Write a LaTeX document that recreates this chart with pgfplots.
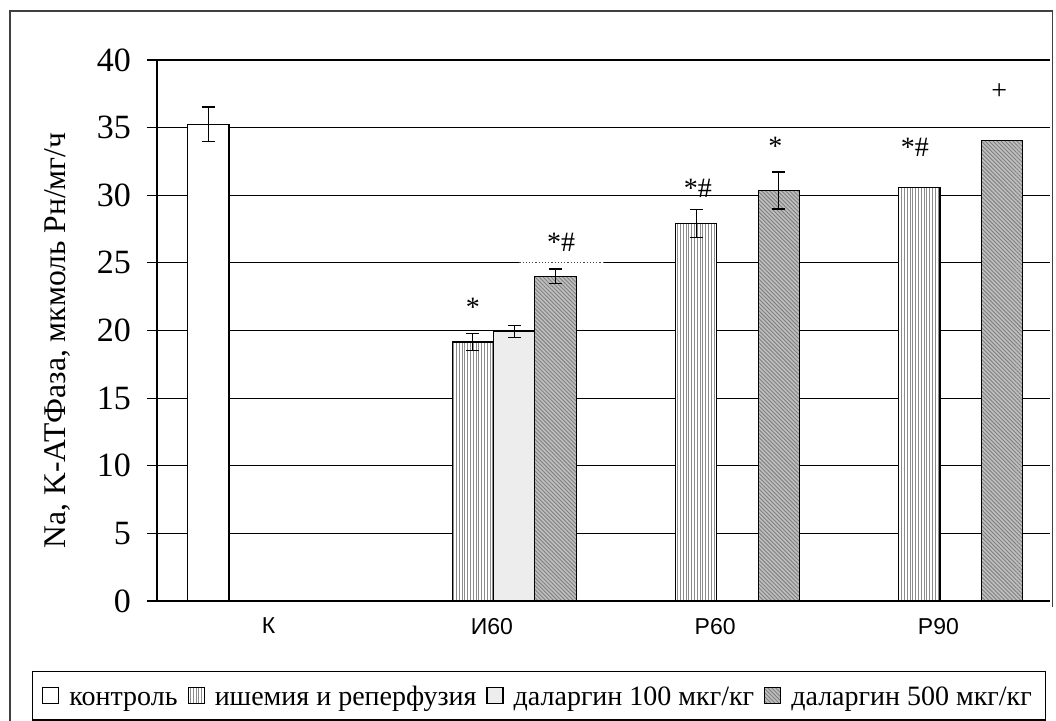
\documentclass[border=0pt]{standalone}
\usepackage{pgfplots}
\pgfplotsset{compat=1.18}
\usetikzlibrary{patterns.meta}
\usepackage{fontspec}
\setmainfont{Liberation Serif}
\newfontfamily\arialfont{Liberation Sans}

% small square legend symbol filled like the bar
\pgfplotsset{sqlegend/.style={legend image code/.code={\draw[##1, line width=0.6pt] (0pt,-4pt) rectangle (8pt,4pt);}}}

\begin{document}
\begin{tikzpicture}
\path[use as bounding box] (0pt,0pt) rectangle (528pt,-360pt);
\begin{axis}[
  name=ax, at={(78.5pt,-300.5pt)}, anchor=south west,
  scale only axis, width=446.5pt, height=270.5pt,
  xmin=-0.5, xmax=3.5, ymin=0, ymax=40,
  ybar, bar width=0.185,
  axis lines*=left,
  axis line style={line width=0.6pt, black},
  tick align=outside,
  major tick length=5pt, minor tick length=3.2pt,
  xtick={0,1,2,3}, xticklabels={К,И60,Р60,Р90},
  xtick style={draw=none},
  minor xtick={-0.5,0.5,1.5,2.5,3.5},
  minor tick style={line width=0.6pt, black},
  ytick={0,5,...,40},
  ytick style={line width=0.6pt, black},
  ymajorgrids, major grid style={line width=0.6pt, black},
  /pgf/number format/assume math mode=true,
  yticklabel style={font=\fontsize{17}{19}\selectfont, xshift=-4.5pt},
  xticklabel style={font=\arialfont\fontsize{11.5}{13}\selectfont},
  ylabel={Na, K-АТФаза, мкмоль Рн/мг/ч},
  every axis y label/.style={at={(-0.111,0.482)}, rotate=90, anchor=center, font=\fontsize{15.8}{18}\selectfont},
  legend columns=4,
  legend style={at={(0.4278,-0.1747)}, anchor=center, draw=black, line width=0.6pt,
    font=\fontsize{14}{17}\selectfont, inner xsep=5pt, inner ysep=3.5pt,
    /tikz/every odd column/.append style={column sep=3pt},
    /tikz/every even column/.append style={column sep=3pt}},
  error bars/y dir=both, error bars/y explicit,
  error bars/error bar style={line width=0.6pt, black},
  error bars/error mark options={rotate=90, mark size=3.2pt, line width=0.6pt, black},
]
% контроль
\addplot[bar shift=-0.27, draw=black, line width=0.6pt, fill=white, sqlegend]
  coordinates {(0,35.25) +- (0,1.28)};
\addlegendentry{\strut контроль}
% ишемия и реперфузия
\addplot[bar shift=-0.085, draw=black, line width=0.6pt, fill=white,
  postaction={pattern color=black!45, pattern={Lines[angle=90,distance=1.4pt,line width=0.45pt]}}, sqlegend]
  coordinates {(1,19.15) +- (0,0.6) (2,27.92) +- (0,1.04) (3,30.55) +- (0,0)};
\addlegendentry{\strut ишемия и реперфузия}
% даларгин 100
\addplot[bar shift=0.1, draw=black, line width=0.6pt, fill=black!7, sqlegend]
  coordinates {(1,19.94) +- (0,0.44)};
\addlegendentry{\strut даларгин 100 мкг/кг}
% даларгин 500
\addplot[bar shift=0.285, draw=black, line width=0.6pt, fill=black!25,
  postaction={pattern color=black!50, pattern={Lines[angle=-45,distance=1.4pt,line width=0.45pt]}}, sqlegend]
  coordinates {(1,24.02) +- (0,0.53) (2,30.35) +- (0,1.37) (3,34.05) +- (0,0)};
\addlegendentry{\strut даларгин 500 мкг/кг}

\draw[white, line width=1.2pt] (axis cs:1.123,25) -- (axis cs:1.5,25);
\draw[black!70, densely dotted, line width=0.6pt] (axis cs:1.123,25) -- (axis cs:1.5,25);

\node[anchor=base, font=\fontsize{14}{16}\selectfont] at (axis cs:0.915,21.07) {*};
\node[anchor=base, font=\fontsize{14}{16}\selectfont] at (axis cs:1.31,25.84) {*\#};
\node[anchor=base, font=\fontsize{14}{16}\selectfont] at (axis cs:1.923,29.8) {*\#};
\node[anchor=base, font=\fontsize{14}{16}\selectfont] at (axis cs:2.27,32.94) {*};
\node[anchor=base, font=\fontsize{14}{16}\selectfont] at (axis cs:2.895,32.87) {*\#};
\node[anchor=base, font=\fontsize{14}{16}\selectfont] at (axis cs:3.273,37.1) {+};
\end{axis}
% chart frame
\draw[black!75, line width=0.7pt] (5pt,-362pt) -- (5pt,-5.5pt) -- (526.3pt,-5.5pt) -- (526.3pt,-303.5pt);
\end{tikzpicture}
\end{document}
